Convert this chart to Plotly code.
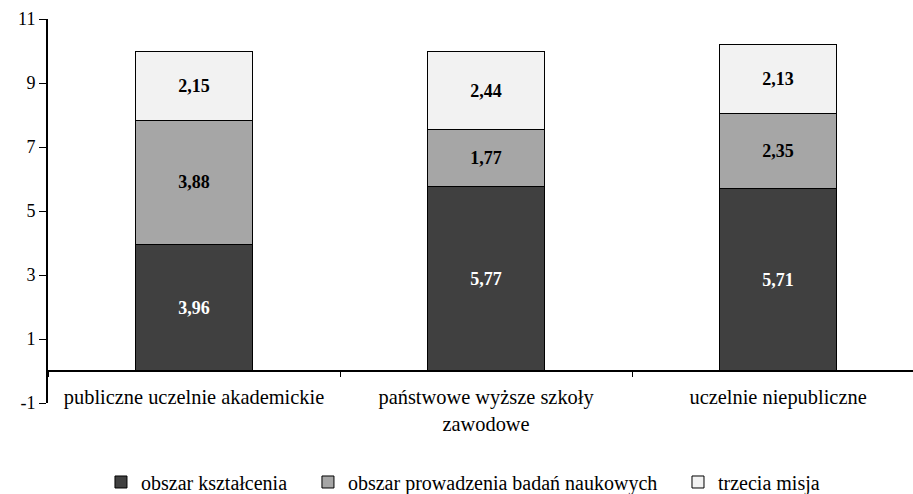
import plotly.graph_objects as go

categories = ["publiczne uczelnie akademickie",
              "państwowe wyższe szkoły<br>zawodowe",
              "uczelnie niepubliczne"]
ksztalcenie = [3.96, 5.77, 5.71]
badania = [3.88, 1.77, 2.35]
trzecia_misja = [2.15, 2.44, 2.13]
y_ticks = [-1, 1, 3, 5, 7, 9, 11]
y_tick_text = ["-1", "1", "3", "5", "7", "9", "11"]

FONT = "Liberation Serif, Times New Roman, serif"

series = [
    ("obszar kształcenia", ksztalcenie, "#404040", "white", "legend"),
    ("obszar prowadzenia badań naukowych", badania, "#a6a6a6", "black", "legend2"),
    ("trzecia misja", trzecia_misja, "#f2f2f2", "black", "legend3"),
]

fig = go.Figure()
for name, vals, color, tcolor, leg in series:
    fig.add_trace(go.Bar(
        x=categories, y=vals, name=name, legend=leg, showlegend=True,
        marker=dict(color=color, line=dict(color="black", width=1)),
        width=0.4,
        texttemplate="<b>%{y:.2f}</b>", textposition="inside",
        insidetextanchor="middle",
        textfont=dict(family=FONT, size=18, color=tcolor),
    ))

# legends are placed relative to the whole page so they do not resize the plot
legend_style = dict(orientation="h", xref="container", yref="container",
                    yanchor="middle", y=0.0243, xanchor="left",
                    font=dict(family=FONT, size=20, color="black"),
                    bgcolor="rgba(0,0,0,0)", itemwidth=30)

fig.update_layout(
    width=913, height=494,
    margin=dict(l=48, r=0, t=19, b=91, autoexpand=False),
    barmode="stack",
    separators=", ",
    showlegend=True,
    paper_bgcolor="white", plot_bgcolor="white",
    font=dict(family=FONT, size=18, color="black"),
    legend=dict(x=0.1106, **legend_style),
    legend2=dict(x=0.3373, **legend_style),
    legend3=dict(x=0.7426, **legend_style),
    xaxis=dict(
        range=[-0.5, 2.462], anchor="free", position=1 / 12,
        showline=True, linecolor="black", linewidth=2,
        ticks="outside", tickson="boundaries", ticklen=5,
        tickcolor="black", tickwidth=1, ticklabelstandoff=8,
        tickfont=dict(family=FONT, size=20.4),
        showgrid=False, zeroline=False,
    ),
    yaxis=dict(
        range=[-1, 11], tickvals=y_ticks, ticktext=y_tick_text,
        showline=True, linecolor="black", linewidth=2,
        ticks="outside", ticklen=7, tickcolor="black", tickwidth=1,
        tickfont=dict(family=FONT, size=18),
        showgrid=False, zeroline=False,
    ),
)

fig.write_html("out.html")
